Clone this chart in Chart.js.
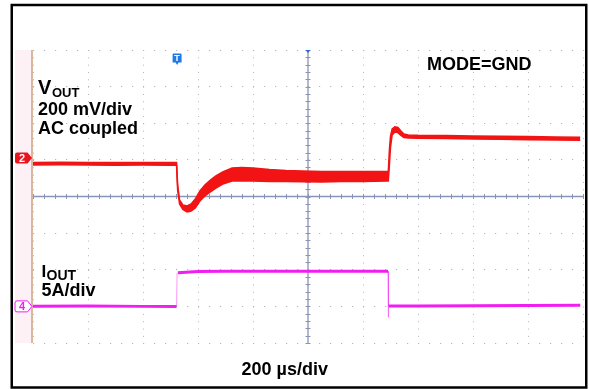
<!DOCTYPE html>
<html><head><meta charset="utf-8">
<script src="https://cdn.jsdelivr.net/npm/chart.js@4/dist/chart.umd.min.js"></script>
<style>html,body{margin:0;padding:0;background:#fff;}#wrap{position:relative;width:589px;height:389px;}</style>
</head><body><div id="wrap"><canvas id="c" width="589" height="389"></canvas></div>
<script>
// ---- data (read from the reference oscilloscope capture) ----
// time axis: 200 µs/div, 10 divisions
const timeTicksUs = [0,200,400,600,800,1000,1200,1400,1600,1800,2000];
// VOUT (AC coupled, 200 mV/div) — upper and lower envelope of the trace (ripple band)
const voutTimeUs = [0,100,200,300,400,500,522,526,533,545,560,575,590,607,625,645,665,690,724,760,800,860,920,980,1050,1120,1200,1288,1292,1296,1300,1306,1316,1327,1338,1349,1365,1400,1500,1600,1700,1800,1900,1990];
const voutHighMv = [186,187,186,185,186,185,185,63,-19,-46,-52,-41,-14,30,63,90,112,134,156,158,156,147,142,139,137,137,137,137,137,254,330,369,381,377,358,341,336,334,333,330,329,327,325,323];
const voutLowMv  = [172,173,172,171,172,171,171,35,-41,-71,-85,-79,-63,-25,3,25,46,68,85,85,85,82,82,81,79,82,82,85,85,172,270,336,352,349,333,322,319,318,317,314,312,310,308,307];
// IOUT (5 A/div)
const ioutTimeUs = [0,200,400,522,524,527,600,700,900,1100,1291,1292,1293,1400,1600,1800,1990];
const ioutAmps   = [0.0,0.05,0.0,0.0,4.6,4.6,4.75,4.8,4.8,4.8,4.8,-1.5,0.05,0.05,0.1,0.12,0.15];
// channel reference markers
const ch2RefMv = 210;
const ch4RefA = 0;
const triggerUs = 524;

const RED = '#f21414';
const MAG = '#f01ef0';
const FONT = '"Liberation Sans", Arial, Helvetica, sans-serif';

const scopeDecor = {
  id: 'scopeDecor',
  beforeDraw(chart) {
    const {ctx, chartArea: a} = chart;
    ctx.save();
    ctx.fillStyle = '#ffffff';
    ctx.fillRect(0, 0, chart.width, chart.height);
    ctx.fillStyle = '#fdf1f6';
    ctx.fillRect(15, a.top, a.left - 15, a.bottom - a.top);
    ctx.restore();
  },
  beforeDatasetsDraw(chart) {
    const {ctx, chartArea: a, scales} = chart;
    const x0 = scales.x.getPixelForValue(1000);
    const y0 = scales.y.getPixelForValue(0);
    ctx.save();
    // tan left edge
    ctx.strokeStyle = '#d8b89e';
    ctx.lineWidth = 2;
    ctx.beginPath(); ctx.moveTo(a.left - 1, a.top); ctx.lineTo(a.left - 1, a.bottom); ctx.stroke();
    // centre axes
    ctx.strokeStyle = '#8a94b4';
    ctx.lineWidth = 1.3;
    ctx.beginPath();
    ctx.moveTo(a.left, y0); ctx.lineTo(a.right, y0);
    ctx.moveTo(x0, a.top); ctx.lineTo(x0, a.bottom);
    ctx.stroke();
    ctx.lineWidth = 1;
    ctx.beginPath();
    for (let t = 0; t <= 2000; t += 40) {
      const px = Math.round(scales.x.getPixelForValue(t)) + 0.5;
      ctx.moveTo(px, y0 - 2.5); ctx.lineTo(px, y0 + 2.5);
    }
    for (let v = -800; v <= 800; v += 40) {
      const py = Math.round(scales.y.getPixelForValue(v)) + 0.5;
      ctx.moveTo(x0 - 2.5, py); ctx.lineTo(x0 + 2.5, py);
    }
    ctx.stroke();
    // small arrow at top of centre axis
    ctx.fillStyle = '#2a6ad8';
    ctx.beginPath(); ctx.moveTo(x0 - 2.5, a.top); ctx.lineTo(x0 + 2.5, a.top); ctx.lineTo(x0, a.top + 3); ctx.closePath(); ctx.fill();
    ctx.restore();
  },
  afterDraw(chart) {
    const {ctx, chartArea: a, scales} = chart;
    ctx.save();
    // outer frame
    ctx.strokeStyle = '#000';
    ctx.lineWidth = 2.5;
    ctx.strokeRect(11.75, 5, 574.5, 382.5);
    // channel 2 marker
    const y2m = scales.y.getPixelForValue(ch2RefMv);
    const tag = (yc) => {
      ctx.beginPath();
      ctx.moveTo(17, yc - 5.5);
      ctx.lineTo(27.5, yc - 5.5);
      ctx.lineTo(32, yc);
      ctx.lineTo(27.5, yc + 5.5);
      ctx.lineTo(17, yc + 5.5);
      ctx.quadraticCurveTo(15, yc + 5.5, 15, yc + 3.5);
      ctx.lineTo(15, yc - 3.5);
      ctx.quadraticCurveTo(15, yc - 5.5, 17, yc - 5.5);
      ctx.closePath();
    };
    tag(y2m);
    ctx.fillStyle = '#e8141e'; ctx.fill();
    ctx.fillStyle = '#fff';
    ctx.font = 'bold 11px ' + FONT;
    ctx.textAlign = 'center'; ctx.textBaseline = 'middle';
    ctx.fillText('2', 22, y2m + 0.5);
    // channel 4 marker
    const y4m = scales.y2.getPixelForValue(ch4RefA);
    tag(y4m);
    ctx.fillStyle = '#fff'; ctx.fill();
    ctx.strokeStyle = MAG; ctx.lineWidth = 1; ctx.stroke();
    ctx.fillStyle = MAG;
    ctx.fillText('4', 22, y4m + 0.5);
    // trigger marker
    const xt = scales.x.getPixelForValue(triggerUs);
    ctx.fillStyle = '#1f7ae6';
    ctx.beginPath();
    ctx.moveTo(xt - 3.5, 53.5);
    ctx.lineTo(xt + 3.5, 53.5);
    ctx.quadraticCurveTo(xt + 4.5, 53.5, xt + 4.5, 54.5);
    ctx.lineTo(xt + 4.5, 62.5);
    ctx.lineTo(xt + 1.5, 62.5); ctx.lineTo(xt, 65); ctx.lineTo(xt - 1.5, 62.5);
    ctx.lineTo(xt - 4.5, 62.5);
    ctx.lineTo(xt - 4.5, 54.5);
    ctx.quadraticCurveTo(xt - 4.5, 53.5, xt - 3.5, 53.5);
    ctx.closePath();
    ctx.fill();
    ctx.fillStyle = '#fff';
    ctx.font = 'bold 9px ' + FONT;
    ctx.fillText('T', xt, 58.5);
    // labels
    ctx.fillStyle = '#000';
    ctx.textAlign = 'left'; ctx.textBaseline = 'alphabetic';
    ctx.font = 'bold 20px ' + FONT;
    ctx.fillText('V', 38, 93.5);
    ctx.font = 'bold 13px ' + FONT;
    ctx.fillText('OUT', 52, 97);
    ctx.font = 'bold 18px ' + FONT;
    ctx.fillText('200 mV/div', 38, 114.5);
    ctx.fillText('AC coupled', 38, 134);
    ctx.font = 'bold 17px ' + FONT;
    ctx.fillText('I', 41.5, 276.5);
    ctx.font = 'bold 14px ' + FONT;
    ctx.fillText('OUT', 46.5, 280);
    ctx.font = 'bold 18px ' + FONT;
    ctx.fillText('5A/div', 41.5, 296);
    ctx.fillText('MODE=GND', 427, 69.5);
    ctx.fillText('200 µs/div', 241.5, 375);
    ctx.restore();
  }
};

const vHigh = voutTimeUs.map((t, i) => ({x: t, y: voutHighMv[i]}));
const vLow = voutTimeUs.map((t, i) => ({x: t, y: voutLowMv[i]}));
const iPts = ioutTimeUs.map((t, i) => ({x: t, y: ioutAmps[i]}));

const steep = (ctx) => (ctx.p1.parsed.x - ctx.p0.parsed.x) < 3.5;

new Chart(document.getElementById('c'), {
  type: 'line',
  data: {
    datasets: [
      {label: 'VOUT max', data: vHigh, yAxisID: 'y', borderColor: RED, borderWidth: 1.5, pointRadius: 0, fill: false, tension: 0},
      {label: 'VOUT min', data: vLow, yAxisID: 'y', borderColor: RED, borderWidth: 1.5, pointRadius: 0, fill: '-1', backgroundColor: RED, tension: 0},
      {label: 'IOUT', data: iPts, yAxisID: 'y2', borderColor: MAG, borderWidth: 3, pointRadius: 0, fill: false, tension: 0,
        segment: {
          borderWidth: ctx => steep(ctx) ? 1 : 3,
          borderColor: ctx => steep(ctx) ? 'rgba(240,30,240,0.45)' : MAG
        }}
    ]
  },
  options: {
    responsive: false,
    devicePixelRatio: 1,
    animation: false,
    events: [],
    layout: {padding: {left: 33, top: 50, right: 6, bottom: 46}},
    plugins: {legend: {display: false}, tooltip: {enabled: false}},
    scales: {
      x: {
        type: 'linear', min: 0, max: 2000,
        afterBuildTicks: s => { s.ticks = timeTicksUs.map(v => ({value: v})); },
        ticks: {display: false},
        grid: {color: '#b4b4c0', lineWidth: 1, drawTicks: false},
        border: {display: false, dash: [1, 6.33]}
      },
      y: {
        type: 'linear', min: -800, max: 800,
        ticks: {display: false, stepSize: 200},
        grid: {color: '#b4b4c0', lineWidth: 1, drawTicks: false},
        border: {display: false, dash: [1.2, 9.8]}
      },
      y2: {
        type: 'linear', min: -5, max: 35, display: false, position: 'right'
      }
    }
  },
  plugins: [scopeDecor]
});
</script>
</body></html>
